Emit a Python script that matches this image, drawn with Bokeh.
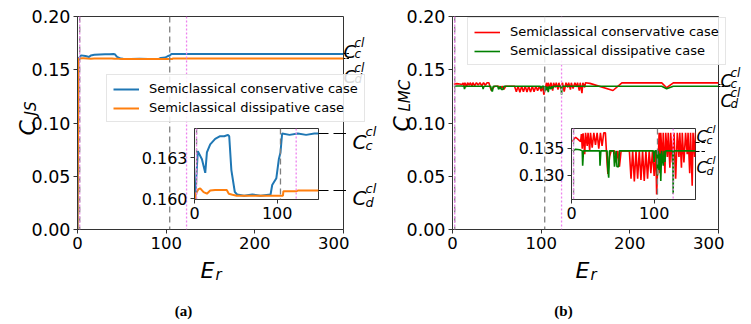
import math
from bokeh.plotting import figure
from bokeh.models import (Range1d, FixedTicker, LinearAxis, Span, Label, Legend,
                          LegendItem, PrintfTickFormatter)
from bokeh.layouts import column
from bokeh.embed import file_html
from bokeh.resources import INLINE

FONT = "DejaVu Sans"

# ---------------- data: panel (a) C_JS ----------------
ea_cons = [0, 1, 4, 9, 13, 15, 19, 25, 31, 36, 40.5, 42, 44.6, 48.7, 51.5, 60, 70, 80, 92,
           94, 99, 102, 104, 106, 115, 125, 135, 145, 150, 200, 250, 300]
ca_cons = [0.0, 0.1603, 0.1635, 0.1629, 0.1619, 0.1634, 0.1640, 0.1644, 0.1646, 0.1646,
           0.1647, 0.1646, 0.1621, 0.1605, 0.1603, 0.1602, 0.1603, 0.1602, 0.1603,
           0.1610, 0.1615, 0.1629, 0.1634, 0.1648, 0.1647, 0.1648, 0.1647, 0.1648,
           0.1648, 0.1648, 0.1648, 0.1648]
ea_diss = [0, 1, 4.9, 6.9, 11, 15, 19, 25, 39, 41.5, 46, 51, 60, 80, 100, 107, 107.5, 123,
           125.6, 150, 200, 250, 300]
ca_diss = [0.0, 0.1603, 0.1607, 0.16075, 0.16047, 0.16036, 0.1606, 0.16063, 0.16063,
           0.16035, 0.16028, 0.16021, 0.16021, 0.16021, 0.16021, 0.16021, 0.16053,
           0.16053, 0.1606, 0.1606, 0.1606, 0.1606, 0.1606]
cc_a, cd_a = 0.1648, 0.1606

# ---------------- data: panel (b) C_LMC ----------------
eb_cons = [1.5, 3, 5, 8, 11, 12, 13, 14, 16, 17, 19, 20, 22, 23, 25, 27, 29, 31, 33, 35, 37,
           39, 41, 43, 44, 46, 48, 52, 54, 56, 58, 60, 70, 72, 74, 76, 78, 80, 82, 84, 86, 88,
           90, 92, 94, 96, 98, 100, 102, 103, 104, 105, 106, 107, 108, 110, 111, 113, 114,
           116, 117, 119, 120, 122, 124, 126, 128, 130, 131, 133, 134, 136, 138, 140, 141,
           143, 144, 146, 147, 149, 150, 155, 181, 191, 236, 241.5, 249, 300]
cb_cons = [0.1362, 0.1367, 0.1370, 0.1366, 0.1362, 0.1376, 0.1349, 0.1377, 0.1339, 0.1378,
           0.1354, 0.1378, 0.1346, 0.1378, 0.1351, 0.1378, 0.1356, 0.1378, 0.1349, 0.1378,
           0.1354, 0.1378, 0.1378, 0.1324, 0.1303, 0.1334, 0.1345, 0.1345, 0.1324, 0.1345,
           0.1316, 0.1345, 0.1345, 0.1294, 0.1345, 0.1289, 0.1345, 0.1294, 0.1345, 0.1292,
           0.1345, 0.1290, 0.1345, 0.1294, 0.1345, 0.1304, 0.1345, 0.1299, 0.1345, 0.1265,
           0.1304, 0.1334, 0.1378, 0.1304, 0.1378, 0.1324, 0.1378, 0.1304, 0.1378, 0.1334,
           0.1378, 0.1314, 0.1378, 0.1324, 0.1378, 0.1294, 0.1378, 0.1334, 0.1378, 0.1314,
           0.1378, 0.1324, 0.1378, 0.1339, 0.1378, 0.1304, 0.1378, 0.1281, 0.1378, 0.1334,
           0.1378, 0.1372, 0.1305, 0.1377, 0.1377, 0.1331, 0.1377, 0.1377]
eb_diss = [1.5, 5, 10, 13, 13.5, 14.5, 34, 34.5, 35.5, 43, 44, 45, 46, 51, 52, 54, 55, 57, 58,
           99, 100, 101, 103, 104, 105, 106, 107, 108, 109, 111, 112, 113, 114, 122.5, 123,
           123.5, 150, 236, 241.5, 249, 300]
cb_diss = [0.1345, 0.1348, 0.1347, 0.1345, 0.1318, 0.1345, 0.1345, 0.1318, 0.1345, 0.1345,
           0.1310, 0.1296, 0.1345, 0.1345, 0.1316, 0.1345, 0.1316, 0.1316, 0.1345, 0.1345,
           0.1325, 0.1345, 0.1345, 0.1300, 0.1345, 0.1310, 0.1340, 0.1290, 0.1345, 0.1318,
           0.1345, 0.1325, 0.1345, 0.1345, 0.1266, 0.1345, 0.1345, 0.1345, 0.1322, 0.1345,
           0.1345]
cc_b, cd_b = 0.1360, 0.1344

# vertical reference lines
vline_gray = [2.5, 104]
vline_violet = [2.5, 123]

main_xticks = [0, 100, 200, 300]
main_yticks = [0.0, 0.05, 0.10, 0.15, 0.20]
inset_xticks = [0, 100]
inset_a_yticks = [0.160, 0.163]
inset_b_yticks = [0.130, 0.135]
inset_a_ylim = (0.15993, 0.16517)
inset_b_ylim = (0.1256, 0.1386)

labels = ["Semiclassical conservative case", "Semiclassical dissipative case"]

# page geometry (pixels)
H = 320
W = 751
MAIN_TOP, MAIN_BOT = 16, 229
MAIN_FW, MAIN_FH = 266, 213
IN_TOP, IN_BOT = 128, 199
IN_FW, IN_FH = 124, 71
IN_CANVAS_TOP = 120
IN_H = 8 + IN_FH + 30


def style_axes(p, xfs="16px", yfs="16px"):
    p.xgrid.visible = False
    p.ygrid.visible = False
    p.outline_line_color = "#333333"
    p.outline_line_width = 1
    for ax in list(p.xaxis) + list(p.yaxis):
        ax.major_label_text_font = FONT
        ax.major_label_text_color = "black"
        ax.axis_line_color = "#333333"
        ax.major_tick_line_color = "#333333"
        ax.minor_tick_line_color = None
        ax.major_tick_out = 4
        ax.major_tick_in = 0
    p.xaxis.major_label_text_font_size = xfs
    p.yaxis.major_label_text_font_size = yfs
    p.xaxis.major_label_standoff = 3
    p.yaxis.major_label_standoff = 3


def add_vlines(p):
    for v in vline_gray:
        p.add_layout(Span(location=v, dimension="height", line_color="gray",
                          line_dash="6 4", line_width=1.3))
    for v in vline_violet:
        p.add_layout(Span(location=v, dimension="height", line_color="violet",
                          line_dash="2 2", line_width=1.3))


def right_ticks(p, vals, length, dash):
    ax = LinearAxis(ticker=FixedTicker(ticks=vals), axis_line_color=None,
                    major_tick_out=length, major_tick_in=0, major_tick_line_dash=dash,
                    major_tick_line_color="black", major_label_standoff=0,
                    formatter=PrintfTickFormatter(format=""),
                    major_label_text_font_size="1px", minor_tick_line_color=None)
    p.add_layout(ax, "right")


def main_fig(bl, margin):
    p = figure(frame_width=MAIN_FW, frame_height=MAIN_FH, x_range=Range1d(0, 300),
               y_range=Range1d(0, 0.2), output_backend="svg", toolbar_location=None,
               min_border_left=bl, min_border_right=4, min_border_top=MAIN_TOP,
               min_border_bottom=H - MAIN_BOT, frame_align=False)
    p.xaxis.ticker = FixedTicker(ticks=main_xticks)
    p.yaxis.ticker = FixedTicker(ticks=main_yticks)
    p.yaxis.formatter = PrintfTickFormatter(format="%.2f")
    style_axes(p, "16.5px", "17.5px")
    p.margin = margin
    return p


def inset_fig(bl, yr, yticks, margin):
    q = figure(frame_width=IN_FW, frame_height=IN_FH, x_range=Range1d(0, 150),
               y_range=Range1d(*yr), output_backend="svg", toolbar_location=None,
               min_border_left=bl, min_border_right=4, min_border_top=IN_TOP - IN_CANVAS_TOP,
               min_border_bottom=IN_H - 8 - IN_FH, frame_align=False)
    q.xaxis.ticker = FixedTicker(ticks=inset_xticks)
    q.yaxis.ticker = FixedTicker(ticks=yticks)
    q.yaxis.formatter = PrintfTickFormatter(format="%.3f")
    style_axes(q)
    q.border_fill_alpha = 0
    q.background_fill_color = "white"
    q.margin = margin
    return q


# every element is positioned absolutely through its margins inside one column
back_to_top = -(IN_CANVAS_TOP + IN_H)
back_to_inset = IN_CANVAS_TOP - H

# ---------------- panel (a) ----------------
pa = main_fig(77, (0, 0, 0, 0))
add_vlines(pa)
pa.line(ea_cons, ca_cons, line_color="#1f77b4", line_width=2)
pa.line(ea_diss, ca_diss, line_color="#ff7f0e", line_width=2)
right_ticks(pa, [cc_a, cd_a], 6, "3 1")

qa = inset_fig(64, inset_a_ylim, inset_a_yticks, (back_to_inset, 0, 0, 130))
add_vlines(qa)
qa.line(ea_cons, ca_cons, line_color="#1f77b4", line_width=2)
qa.line(ea_diss, ca_diss, line_color="#ff7f0e", line_width=2)
right_ticks(qa, [cc_a, cd_a], 28, "13 5")

# ---------------- panel (b) ----------------
pb = main_fig(72, (back_to_top, 0, 0, 380))
add_vlines(pb)
pb.line(eb_cons, cb_cons, line_color="red", line_width=1.6)
pb.line(eb_diss, cb_diss, line_color="green", line_width=1.6)
right_ticks(pb, [cc_b, cd_b], 6, "3 1")

qb = inset_fig(66, inset_b_ylim, inset_b_yticks, (back_to_inset, 0, 0, 505))
add_vlines(qb)
qb.line(eb_cons, cb_cons, line_color="red", line_width=1.6)
qb.line(eb_diss, cb_diss, line_color="green", line_width=1.6)
right_ticks(qb, [cc_b, cd_b], 10, "4 2")

# ---------------- transparent overlay for texts and legends (page pixel coords) -------
ov = figure(width=W, height=H, x_range=Range1d(0, W), y_range=Range1d(H, 0),
            output_backend="svg", toolbar_location=None, x_axis_location=None,
            y_axis_location=None, min_border=0, frame_align=False)
ov.grid.visible = False
ov.outline_line_color = None
ov.background_fill_alpha = 0
ov.border_fill_alpha = 0
ov.margin = (back_to_top, 0, 0, 0)


def main_y(v):
    return MAIN_BOT - v / 0.2 * (MAIN_BOT - MAIN_TOP)


def inset_y(v, lim):
    return IN_TOP + (lim[1] - v) / (lim[1] - lim[0]) * (IN_BOT - IN_TOP)


def txt(x, y, text, size, style="italic", angle=0.0, align="left", baseline="alphabetic",
        font=FONT):
    ov.add_layout(Label(x=x, y=y, text=text, text_font=font, text_font_style=style,
                        text_font_size=size, angle=angle, text_align=align,
                        text_baseline=baseline, text_color="black"))


def c_label(x, base, sub, big, small, w, sup_dy, sub_dy):
    txt(x, base, "C", big)
    txt(x + w, base - sup_dy, "cl", small)
    txt(x + w, base + sub_dy, sub, small)


# classical reference labels
c_label(343, main_y(cc_a) - 2.5, "c", "18px", "12px", 11, 8, 3)
c_label(343, main_y(cd_a) + 18, "d", "18px", "12px", 11, 8, 3)
c_label(352, inset_y(cc_a, inset_a_ylim) + 8, "c", "20px", "13px", 13, 10, 4)
c_label(352, inset_y(cd_a, inset_a_ylim) + 8, "d", "20px", "13px", 13, 10, 4)
c_label(720, main_y(cc_b) - 4, "c", "17px", "12px", 10, 8, 3)
c_label(720, main_y(cd_b) + 15, "d", "17px", "12px", 10, 8, 3)
c_label(696, inset_y(cc_b, inset_b_ylim) - 6, "c", "16px", "11px", 10, 7, 4)
c_label(696, inset_y(cd_b, inset_b_ylim) + 16, "d", "16px", "11px", 10, 7, 4)

# axis titles
txt(27, 135, "C", "22px", angle=math.pi / 2)
txt(30, 115, "JS", "15px", angle=math.pi / 2)
txt(200, 270, "E", "22px")
txt(215, 274, "r", "15px")
txt(401, 131, "C", "22px", angle=math.pi / 2)
txt(404, 111, "LMC", "15px", angle=math.pi / 2)
txt(575, 270, "E", "22px")
txt(590, 274, "r", "15px")

# sub-figure captions
txt(183, 310, "(a)", "15px", style="bold", align="center", baseline="middle",
    font="Liberation Serif")
txt(563, 310, "(b)", "15px", style="bold", align="center", baseline="middle",
    font="Liberation Serif")

# legends: one-point proxy lines (draw nothing) carry the line style for the key
proxies = [((ea_cons, ca_cons, "#1f77b4"), (ea_diss, ca_diss, "#ff7f0e"), 2),
           ((eb_cons, cb_cons, "red"), (eb_diss, cb_diss, "green"), 1.6)]
locs = [(106, H - 122), (467, H - 65)]
for (s1, s2, lw), loc in zip(proxies, locs):
    r1 = ov.line(s1[0][:1], s1[1][:1], line_color=s1[2], line_width=lw)
    r2 = ov.line(s2[0][:1], s2[1][:1], line_color=s2[2], line_width=lw)
    leg = Legend(items=[LegendItem(label=labels[0], renderers=[r1]),
                        LegendItem(label=labels[1], renderers=[r2])],
                 location=loc, label_text_font=FONT, label_text_font_size="13px",
                 label_text_color="black",
                 glyph_width=26, glyph_height=14, label_height=14, spacing=4,
                 padding=6, margin=0, label_standoff=10, border_line_color="#cccccc",
                 border_line_width=1, background_fill_alpha=0.85)
    ov.add_layout(leg)

layout = column(pa, qa, pb, qb, ov)
open("out.html", "w").write(file_html(layout, INLINE))
